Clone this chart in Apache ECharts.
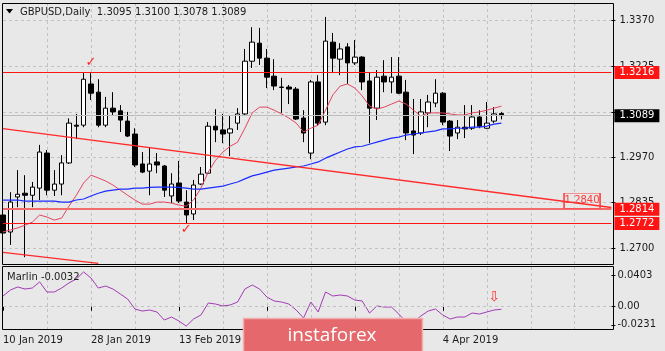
<!DOCTYPE html>
<html>
<head>
<meta charset="utf-8">
<script src="https://cdn.jsdelivr.net/npm/echarts@6/dist/echarts.min.js"></script>
<style>
  html, body { margin: 0; padding: 0; background: #e8e8e8; }
  #chart { width: 665px; height: 351px; }
</style>
</head>
<body>
<div id="chart"></div>
<script>
// GBPUSD daily, 10 Jan 2019 .. 16 Apr 2019
const opens = [1.2797,1.2747,1.2850,1.2861,1.2855,1.2876,1.2979,1.2870,1.2888,1.2950,
  1.3061,1.3061,1.3182,1.3158,1.3061,1.3111,1.3103,1.3073,1.3035,1.2947,
  1.2926,1.2953,1.2941,1.2853,1.2891,1.2835,1.2800,1.2888,1.2920,1.3058,
  1.3047,1.3038,1.3067,1.3094,1.3249,1.3302,1.3258,1.3205,1.3173,1.3173,
  1.3167,1.3082,1.2979,1.3188,1.3070,1.3305,1.3255,1.3291,1.3244,1.3261,
  1.3191,1.3111,1.3205,1.3188,1.3205,1.3158,1.3044,1.3038,1.3097,1.3126,
  1.3155,1.3073,1.3038,1.3055,1.3052,1.3085,1.3052,1.3073,1.3095];
const closes = [1.2744,1.2835,1.2858,1.2855,1.2879,1.2982,1.2870,1.2888,1.2950,1.3067,
  1.3058,1.3196,1.3155,1.3061,1.3111,1.3100,1.3076,1.3029,1.2944,1.2923,
  1.2947,1.2944,1.2870,1.2888,1.2838,1.2797,1.2885,1.2917,1.3058,1.3047,
  1.3035,1.3050,1.3094,1.3249,1.3305,1.3258,1.3202,1.3176,1.3172,1.3167,
  1.3079,1.3038,1.3188,1.3067,1.3308,1.3258,1.3285,1.3244,1.3261,1.3188,
  1.3111,1.3202,1.3188,1.3202,1.3155,1.3038,1.3032,1.3100,1.3129,1.3155,
  1.3070,1.3029,1.3055,1.3050,1.3085,1.3058,1.3067,1.3094,1.3089];
const lows = [1.2723,1.2709,1.2820,1.2673,1.2820,1.2841,1.2855,1.2853,1.2855,1.2947,
  1.3020,1.3055,1.3135,1.3055,1.3055,1.3091,1.3041,1.3026,1.2938,1.2920,
  1.2855,1.2920,1.2850,1.2832,1.2832,1.2773,1.2782,1.2885,1.2917,1.3011,
  1.3008,1.2970,1.3047,1.3091,1.3229,1.3238,1.3170,1.3164,1.3097,1.3123,
  1.3076,1.3011,1.2961,1.3061,1.3061,1.3214,1.3208,1.3182,1.3238,1.3164,
  1.3008,1.3076,1.3158,1.3155,1.3152,1.3017,1.2976,1.3032,1.3055,1.3114,
  1.3061,1.2985,1.3020,1.3023,1.3047,1.3052,1.3050,1.3067,1.3078];
const highs = [1.2826,1.2864,1.2929,1.2914,1.2894,1.3003,1.2988,1.2929,1.2973,1.3081,
  1.3094,1.3214,1.3214,1.3196,1.3144,1.3158,1.3120,1.3100,1.3052,1.2982,
  1.2994,1.2979,1.2944,1.2920,1.2956,1.2870,1.2900,1.2938,1.3070,1.3108,
  1.3094,1.3091,1.3111,1.3285,1.3349,1.3347,1.3285,1.3255,1.3200,1.3179,
  1.3173,1.3105,1.3194,1.3208,1.3379,1.3332,1.3302,1.3302,1.3311,1.3264,
  1.3217,1.3223,1.3252,1.3261,1.3261,1.3194,1.3138,1.3138,1.3150,1.3196,
  1.3158,1.3076,1.3076,1.3120,1.3120,1.3105,1.3129,1.3114,1.3100];

// moving averages (red = fast, blue = slow)
const maFast = [1.2747,1.2753,1.2759,1.2767,1.2776,1.2797,1.2791,1.2782,1.2788,1.2823,
  1.2855,1.2891,1.2914,1.2906,1.2897,1.2885,1.2870,1.2855,1.2841,1.2829,
  1.2829,1.2835,1.2835,1.2832,1.2826,1.2823,1.2841,1.2876,1.2923,1.2958,
  1.2982,1.2999,1.3011,1.3052,1.3097,1.3114,1.3114,1.3105,1.3094,1.3082,
  1.3067,1.3041,1.3052,1.3061,1.3105,1.3150,1.3176,1.3182,1.3170,1.3147,
  1.3117,1.3108,1.3114,1.3123,1.3132,1.3123,1.3105,1.3088,1.3097,1.3097,
  1.3097,1.3094,1.3091,1.3091,1.3097,1.3100,1.3105,1.3111,1.3117];
const maSlow = [1.2841,1.2841,1.2841,1.2838,1.2838,1.2838,1.2838,1.2838,1.2835,1.2835,
  1.2841,1.2844,1.2853,1.2861,1.2867,1.2870,1.2873,1.2873,1.2876,1.2876,
  1.2878,1.2879,1.2879,1.2879,1.2878,1.2876,1.2873,1.2873,1.2876,1.2879,
  1.2882,1.2888,1.2894,1.2903,1.2912,1.2917,1.2923,1.2929,1.2932,1.2935,
  1.2938,1.2941,1.2947,1.2953,1.2964,1.2973,1.2982,1.2991,1.2997,1.2999,
  1.3005,1.3011,1.3017,1.3023,1.3026,1.3032,1.3035,1.3038,1.3041,1.3044,
  1.3050,1.3050,1.3052,1.3052,1.3055,1.3055,1.3058,1.3064,1.3067];

// Marlin oscillator
const marlin = [0.0136,0.0212,0.0251,0.0225,0.0238,0.0315,0.0187,0.0187,0.0238,0.0302,
  0.0353,0.0442,0.0365,0.0238,0.0263,0.0225,0.0162,0.0098,-0.0029,-0.0055,
  -0.0042,-0.0067,-0.0169,-0.0131,-0.0182,-0.0246,-0.0156,-0.0106,0.0047,0.0034,
  0.0009,0.0022,0.0060,0.0225,0.0276,0.0225,0.0123,0.0073,0.0060,0.0034,
  -0.0042,-0.0144,0.0060,-0.0067,0.0187,0.0136,0.0149,0.0136,0.0085,0.0073,
  -0.0080,0.0009,-0.0004,-0.0004,-0.0093,-0.0195,-0.0195,-0.0118,-0.0055,-0.0029,
  -0.0106,-0.0156,-0.0131,-0.0131,-0.0080,-0.0093,-0.0067,-0.0042,-0.0032];

const dateTickIdx = [0, 12, 24, 36, 48, 60];
const dateTickText = ['10 Jan 2019', '28 Jan 2019', '13 Feb 2019', '1 Mar 2019', '19 Mar 2019', '4 Apr 2019'];
const priceTicks = [1.3370, 1.3235, 1.3100, 1.2967, 1.2835, 1.2700];
// the 1.3080 label sits under the current-price box
const priceTickText = ['1.3370', '1.3225', '', '1.2970', '1.2835', '1.2700'];
const marlinTicks = [0.0403, 0, -0.0231];
const marlinTickText = ['0.0403', '0.00', '-0.0231'];
const levels = [1.3216, 1.2814, 1.2772];
const lastPrice = 1.3089;
const trendUpper = [[0, 1.3051], [83, 1.2819]];
const trendLower = [[0, 1.2687], [13, 1.2655]];

const FONT = 'DejaVu Sans';
const slots = Array.from({ length: 84 }, (_, i) => String(i));
const nearIdx = (arr, v) => arr.findIndex(t => Math.abs(t - v) < 1e-6);
const gridDash = { color: '#c2c2c2', type: [3, 3], width: 1 };

const boxLabel = (text, bg) => ({
  show: true, position: 'end', distance: 3, formatter: text,
  backgroundColor: bg, color: '#fff', padding: [2, 5, 1, 5],
  fontSize: 10, fontFamily: FONT
});

const chart = echarts.init(document.getElementById('chart'));

chart.setOption({
  backgroundColor: '#e8e8e8',
  animation: false,
  grid: [
    { left: 3, top: 3, width: 608.4, height: 261 },
    { left: 3, top: 267, width: 608.4, height: 63 }
  ],
  xAxis: [0, 1].map(g => ({
    type: 'category', gridIndex: g, data: slots, boundaryGap: false,
    axisLine: { show: false },
    axisTick: { show: g === 1, length: 4, interval: i => dateTickIdx.includes(i),
      lineStyle: { color: '#000' } },
    axisLabel: {
      show: g === 1, align: 'left', margin: 5, fontSize: 10, fontFamily: FONT, color: '#1b1b1b',
      interval: i => dateTickIdx.includes(i),
      formatter: v => dateTickText[dateTickIdx.indexOf(Number(v))] || ''
    },
    splitLine: { show: true, interval: i => i > 0 && i % 6 === 0, lineStyle: gridDash }
  })),
  yAxis: [
    {
      type: 'value', gridIndex: 0, position: 'right', min: 1.2653, max: 1.3420,
      axisLine: { show: false },
      axisTick: { show: true, length: 4, customValues: priceTicks, lineStyle: { color: '#000' } },
      axisLabel: {
        customValues: priceTicks, margin: 8, fontSize: 10, fontFamily: FONT, color: '#1b1b1b',
        formatter: v => priceTickText[nearIdx(priceTicks, v)] || ''
      },
      splitLine: { show: true, lineStyle: gridDash }
    },
    {
      type: 'value', gridIndex: 1, position: 'right', min: -0.0296, max: 0.0505,
      axisLine: { show: false },
      axisTick: { show: true, length: 4, customValues: marlinTicks, lineStyle: { color: '#000' } },
      axisLabel: {
        customValues: marlinTicks, margin: 6, fontSize: 10, fontFamily: FONT, color: '#1b1b1b',
        formatter: v => marlinTickText[nearIdx(marlinTicks, v)] || ''
      },
      splitLine: { show: false }
    }
  ],
  series: [
    {
      type: 'candlestick', xAxisIndex: 0, yAxisIndex: 0, barWidth: 5,
      data: opens.map((o, i) => [o, closes[i], lows[i], highs[i]]),
      itemStyle: { color: '#ffffff', color0: '#000000', borderColor: '#000000', borderColor0: '#000000', borderWidth: 1 },
      markPoint: {
        silent: true,
        data: [
          { coord: [12, 1.3246], symbol: 'rect', symbolSize: 1, itemStyle: { color: 'rgba(0,0,0,0)' },
            label: { show: true, position: 'inside', formatter: '✓', color: '#ff2020', fontSize: 13, fontFamily: FONT } },
          { coord: [24.5, 1.2753], symbol: 'rect', symbolSize: 1, itemStyle: { color: 'rgba(0,0,0,0)' },
            label: { show: true, position: 'inside', formatter: '✓', color: '#ff2020', fontSize: 13, fontFamily: FONT } },
          { coord: [78.7, 1.2839], symbol: 'rect', symbolSize: [36, 15],
            itemStyle: { color: 'rgba(0,0,0,0)', borderColor: '#ff3a3a', borderWidth: 1 },
            label: { show: true, position: 'inside', formatter: '1.2840', color: '#ff3a3a', fontSize: 10, fontFamily: FONT } }
        ]
      },
      z: 3
    },
    {
      type: 'line', xAxisIndex: 0, yAxisIndex: 0, data: maFast, symbol: 'none',
      lineStyle: { color: '#e4445f', width: 1 }, z: 4
    },
    {
      type: 'line', xAxisIndex: 0, yAxisIndex: 0, data: maSlow, symbol: 'none',
      lineStyle: { color: '#1b2cff', width: 1.2 }, z: 4,
      markLine: {
        silent: true, symbol: ['none', 'none'], label: { show: false }, precision: 4,
        data: [
          { yAxis: levels[0], lineStyle: { color: '#ff1414', width: 1.2, type: 'solid' }, label: boxLabel('1.3216', '#ff1414') },
          { yAxis: levels[1], lineStyle: { color: '#f26c6c', width: 2, type: 'solid' }, label: boxLabel('1.2814', '#ff1414') },
          { yAxis: levels[2], lineStyle: { color: '#ff1414', width: 1.2, type: 'solid' }, label: boxLabel('1.2772', '#ff1414') },
          { yAxis: lastPrice, lineStyle: { color: '#bdbdbd', width: 1, type: 'solid' }, label: boxLabel('1.3089', '#000000') },
          [{ coord: trendUpper[0], lineStyle: { color: '#ff2a2a', width: 1.3, type: 'solid' } }, { coord: trendUpper[1] }],
          [{ coord: trendLower[0], lineStyle: { color: '#ff2a2a', width: 1.3, type: 'solid' } }, { coord: trendLower[1] }]
        ]
      }
    },
    {
      type: 'line', xAxisIndex: 1, yAxisIndex: 1, data: marlin, symbol: 'none',
      lineStyle: { color: '#a23bb5', width: 1 }, z: 4,
      markLine: {
        silent: true, symbol: ['none', 'none'], label: { show: false },
        data: [{ yAxis: 0, lineStyle: { color: '#c2c2c2', type: [3, 3], width: 1 } }]
      },
      markPoint: {
        silent: true,
        data: [{ coord: [67.4, 0.0123], symbol: 'rect', symbolSize: 1, itemStyle: { color: 'rgba(0,0,0,0)' },
          label: { show: true, position: 'inside', formatter: '⇩', color: '#ff3030', fontSize: 14, fontFamily: FONT } }]
      }
    }
  ],
  graphic: [
    { type: 'rect', z: 50, silent: true, shape: { x: 2.5, y: 3.5, width: 611, height: 261 },
      style: { fill: 'none', stroke: '#000', lineWidth: 1 } },
    { type: 'rect', z: 50, silent: true, shape: { x: 2.5, y: 266.5, width: 611, height: 63 },
      style: { fill: 'none', stroke: '#000', lineWidth: 1 } },
    { type: 'polygon', z: 50, silent: true, shape: { points: [[6, 9], [13, 9], [9.5, 13.5]] },
      style: { fill: '#000' } },
    { type: 'text', z: 50, silent: true, x: 20, y: 12,
      style: { text: 'GBPUSD,Daily  1.3095 1.3100 1.3078 1.3089', fill: '#1b1b1b',
        font: '10px "DejaVu Sans"', verticalAlign: 'middle' } },
    { type: 'text', z: 50, silent: true, x: 7, y: 277.5,
      style: { text: 'Marlin -0.0032', fill: '#1b1b1b', font: '10px "DejaVu Sans"', verticalAlign: 'middle' } },
    { type: 'rect', z: 60, silent: true, shape: { x: 243.5, y: 318.5, width: 179, height: 40 },
      style: { fill: '#e4686c', stroke: '#f2aeae', lineWidth: 1.5 } },
    { type: 'text', z: 61, silent: true, x: 332, y: 336,
      style: { text: 'instaforex', fill: '#ffffff', font: '19px "Open Sans"', align: 'center', verticalAlign: 'middle' } }
  ]
});
</script>
</body>
</html>
